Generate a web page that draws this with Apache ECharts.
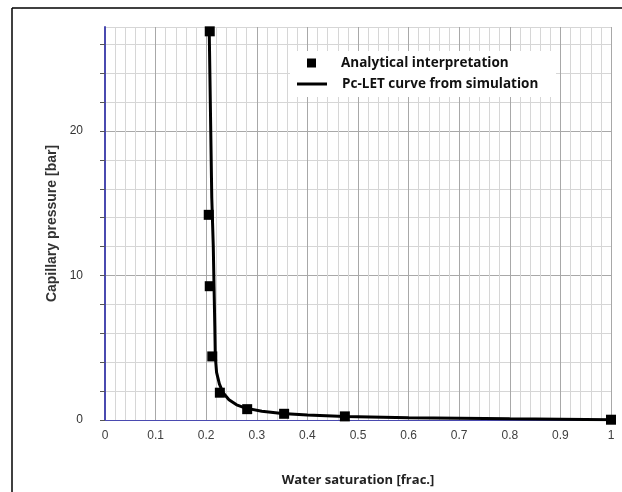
<!DOCTYPE html>
<html>
<head>
<meta charset="utf-8">
<script src="https://cdn.jsdelivr.net/npm/echarts@6/dist/echarts.min.js"></script>
<style>
html,body{margin:0;padding:0;background:#fff;}
#chart{width:622px;height:492px;}
</style>
</head>
<body>
<div id="chart"></div>
<script>
// Analytical interpretation (squares)
var satAnalytical = [0.207, 0.205, 0.207, 0.212, 0.227, 0.281, 0.354, 0.474, 1.0];
var pcAnalytical  = [26.9, 14.2, 9.26, 4.4, 1.89, 0.75, 0.43, 0.25, 0.02];
// Pc-LET curve from simulation (line)
var satSim = [0.206, 0.209, 0.211, 0.214, 0.2155, 0.217, 0.218, 0.2205, 0.226, 0.233, 0.245, 0.26, 0.278, 0.31, 0.35, 0.40, 0.474, 0.6, 0.8, 1.0];
var pcSim  = [26.9, 20, 15.4, 12, 9.2, 6.5, 4.4, 3.3, 2.5, 1.9, 1.4, 1.05, 0.82, 0.6, 0.45, 0.35, 0.25, 0.16, 0.08, 0.02];
var xTicks = [0, 0.1, 0.2, 0.3, 0.4, 0.5, 0.6, 0.7, 0.8, 0.9, 1];
var yTicks = [0, 10, 20];
var seriesNames = ['Analytical interpretation', 'Pc-LET curve from simulation'];
var xTitle = 'Water saturation [frac.]';
var yTitle = 'Capillary pressure [bar]';

function zip(a, b) { return a.map(function (v, i) { return [v, b[i]]; }); }

var chart = echarts.init(document.getElementById('chart'), null, {renderer: 'canvas'});
var major = '#a8a8a8', minor = '#d6d6d6', axisBlue = '#4a4ab0';
chart.setOption({
  animation: false,
  backgroundColor: '#ffffff',
  grid: {left: 105, right: 11, top: 27, bottom: 67, containLabel: false},
  xAxis: {
    type: 'value', min: 0, max: 1, interval: 0.1,
    name: xTitle, nameLocation: 'middle', nameGap: 54,
    nameTextStyle: {fontFamily: 'Open Sans', fontWeight: 'bold', fontSize: 13, color: '#222'},
    axisLine: {show: true, lineStyle: {color: axisBlue, width: 1}},
    axisTick: {show: false},
    axisLabel: {margin: 10, fontFamily: 'Liberation Sans', fontSize: 12, color: '#404040',
      formatter: function (v) { var r = Math.round(v * 10) / 10; return xTicks.indexOf(r) >= 0 ? String(r) : ''; }},
    splitLine: {show: true, lineStyle: {color: major, width: 1}},
    minorTick: {show: false, splitNumber: 5},
    minorSplitLine: {show: true, lineStyle: {color: minor, width: 1}}
  },
  yAxis: {
    type: 'value', min: 0, max: 27.2, interval: 2,
    name: yTitle, nameLocation: 'middle', nameGap: 45, nameRotate: 90,
    nameTextStyle: {fontFamily: 'Liberation Sans', fontWeight: 'bold', fontSize: 14, color: '#333'},
    axisLine: {show: true, lineStyle: {color: axisBlue, width: 2}},
    axisTick: {show: true, length: 5, lineStyle: {color: '#555'}},
    axisLabel: {margin: 22, fontFamily: 'Liberation Sans', fontSize: 12, color: '#333', showMaxLabel: false,
      formatter: function (v) { return yTicks.indexOf(v) >= 0 ? String(v) : ''; }},
    splitLine: {show: true, lineStyle: {color: [major, minor, minor, minor, minor], width: 1}}
  },
  legend: [
    {data: [seriesNames[0]], left: 307, top: 56, orient: 'vertical', itemWidth: 9, itemHeight: 9, padding: 0, z: 6,
      icon: 'rect',
      textStyle: {fontFamily: 'Open Sans', fontWeight: 'bold', fontSize: 13.5, color: '#111', padding: [0, 0, 0, 20]}},
    {data: [seriesNames[1]], left: 297, top: 77, orient: 'vertical', itemWidth: 30, itemHeight: 3, padding: 0, z: 6,
      icon: 'rect',
      textStyle: {fontFamily: 'Open Sans', fontWeight: 'bold', fontSize: 13.5, color: '#111', padding: [0, 0, 0, 10]}}
  ],
  graphic: [
    {type: 'rect', z: 5, shape: {x: 290, y: 51, width: 266, height: 46}, style: {fill: '#ffffff'}},
    {type: 'line', z: 10, shape: {x1: 12, y1: 8, x2: 12, y2: 492}, style: {stroke: '#000', lineWidth: 1.5}},
    {type: 'line', z: 10, shape: {x1: 12, y1: 8, x2: 622, y2: 8}, style: {stroke: '#000', lineWidth: 1.5}}
  ],
  series: [
    {name: seriesNames[1], type: 'line', data: zip(satSim, pcSim), symbol: 'none', smooth: false,
      lineStyle: {color: '#000', width: 3}, itemStyle: {color: '#000'}, z: 3},
    {name: seriesNames[0], type: 'scatter', data: zip(satAnalytical, pcAnalytical), symbol: 'rect', symbolSize: 10,
      itemStyle: {color: '#000', opacity: 1}, z: 4}
  ]
});
</script>
</body>
</html>
